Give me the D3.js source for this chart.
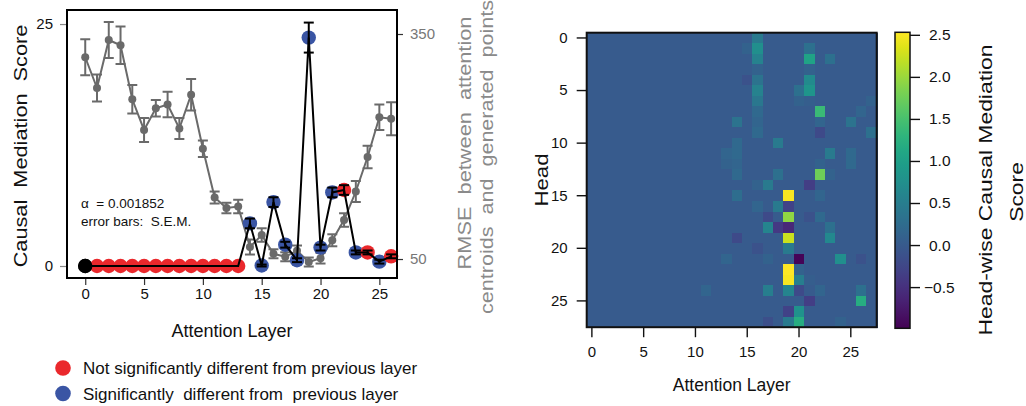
<!DOCTYPE html>
<html><head><meta charset="utf-8">
<script src="https://cdn.jsdelivr.net/npm/d3@7"></script>
<style>body{margin:0;background:#fff}svg{display:block;font-family:"Liberation Sans",Arial,sans-serif}</style>
</head><body><svg id="c" width="1026" height="406"></svg>
<script>
// ---------- data: left panel ----------
const layers = d3.range(0, 27);
const cmsValues = [0,0,0,0,0,0,0,0,0,0,0,0,0,0,4.4,0.05,6.6,2.2,0.6,23.6,1.9,7.6,7.85,1.4,1.4,0.45,1.0];
const cmsErrors = [0,0,0,0,0,0,0,0,0,0,0,0,0,0,0.5,0.1,0.5,0.3,0.2,1.55,0.3,0.5,0.5,0.2,0.2,0.2,0.2];
const significance = ["base","ns","ns","ns","ns","ns","ns","ns","ns","ns","ns","ns","ns","ns",
  "sig","sig","sig","sig","sig","sig","sig","sig","ns","sig","ns","sig","ns"];
const rmseValues = [319,278,342,335,263,222,251,256,224,269,197,132,118,120,66,82,57,53,61,46,51,75,102,140,186,239,237];
const rmseErrors = [24,18,24,25,19,16,11,17,14,21,11,8,7,9,10,9,6,6,7,6,7,8,9,14,15,17,22];
const leftTicks = [0, 25];
const rightTicks = [50, 350];
const layerTicks = [0,5,10,15,20,25];
const legendLabels = ["Not significantly different from previous layer","Significantly  different from  previous layer"];
// ---------- data: heatmap (sparse cells: [layer, head, value]; others ~0) ----------
const nLayers = 28, nHeads = 28;
const headCells = [
 [16,0,0.45],[16,1,0.75],[16,2,0.55],[16,3,0.1],[16,4,0.35],[16,5,0.55],[16,6,0.4],[16,7,0.2],[16,8,0.15],[16,9,0.2],
 [15,1,0.1],[15,4,-0.1],[14,8,0.35],[14,10,0.2],[14,11,0.2],[14,12,0.15],[14,13,0.2],[13,11,0.15],[13,12,0.1],
 [21,1,0.3],[21,2,1.05],[21,3,0.1],[21,4,0.7],[21,5,0.85],[21,6,0.05],[20,5,0.3],[20,6,0.1],
 [22,7,1.4],[22,8,0.15],[22,9,-0.2],[22,12,0.1],[22,13,1.75],[23,2,0.3],[23,11,0.45],[23,13,0.1],
 [18,10,0.45],[18,13,0.3],[25,8,0.35],[25,11,0.2],[25,12,0.2],[26,7,0.15],[27,9,0.3],[27,6,0.1],
 [17,14,0.45],[21,14,-0.35],[16,14,0.1],[19,15,2.5],[14,15,0.25],[22,15,0.15],
 [19,16,-0.3],[18,16,0.45],[16,16,0.15],[19,17,1.95],[17,17,-0.2],[21,17,-0.1],[22,17,0.2],
 [19,18,-0.6],[18,18,-0.4],[17,18,0.6],[23,18,0.3],[19,19,2.25],[23,19,0.65],[14,19,-0.2],
 [19,20,0.45],[16,20,-0.1],[20,21,-0.95],[24,21,0.75],[26,21,-0.1],[13,21,0.15],[17,21,0.1],
 [19,22,2.55],[20,22,0.1],[19,23,2.5],[20,23,0.5],[21,23,0.05],
 [17,24,0.5],[19,24,0.6],[20,24,-0.2],[26,24,0.3],[11,24,0.15],[22,24,0.15],
 [21,25,-0.35],[26,25,1.2],[19,26,-0.3],[20,26,0.8],[19,27,0.45],[20,27,1.2],[17,27,-0.15],[24,27,0.1]
];
const colorbarTicks = [-0.5,0.0,0.5,1.0,1.5,2.0,2.5];
const colorDomain = [-0.99, 2.53];

const svg = d3.select("#c");
const colors = {ns:"#ea282c", sig:"#3a55a4", base:"#000"};
const gray = "#6a6a6a";
const STRETCH = 1.27; // rotated labels are drawn elongated along their length

function vlabel(parent, x, y, txt, size, fill) {
  const t = parent.append("text").attr("transform",`translate(${x},${y}) rotate(-90)`)
    .attr("text-anchor","middle").attr("font-size",size).attr("fill",fill).text(txt);
  const len = t.node().getComputedTextLength();
  t.attr("textLength", len*STRETCH).attr("lengthAdjust","spacingAndGlyphs");
  return t;
}

// ---------- left panel ----------
const L = {x0:67, x1:397, y0:10, y1:278};
const x = d3.scaleLinear().domain([-1.55, 26.5]).range([L.x0, L.x1]);
const yL = d3.scaleLinear().domain([-1.24, 26.45]).range([L.y1, L.y0]);
const yR = d3.scaleLinear().domain([24.7, 382]).range([L.y1, L.y0]);

const gl = svg.append("g");
const ax = gl.append("g").attr("transform",`translate(0,${L.y1})`)
  .call(d3.axisBottom(x).tickValues(layerTicks).tickSize(7).tickPadding(3).tickFormat(d3.format("d")));
const ayl = gl.append("g").attr("transform",`translate(${L.x0},0)`)
  .call(d3.axisLeft(yL).tickValues(leftTicks).tickSize(7).tickPadding(7));
const ayr = gl.append("g").attr("transform",`translate(${L.x1},0)`)
  .call(d3.axisRight(yR).tickValues(rightTicks).tickSize(6).tickPadding(7));
[ax,ayl,ayr].forEach(a=>{a.select(".domain").remove();a.selectAll("text").attr("font-size",15).attr("fill","#111");a.selectAll("line").attr("stroke","#333").attr("stroke-width",1.2);});
ayr.selectAll("text").attr("fill","#777");
ayl.selectAll("line").attr("stroke","#888");

// gray RMSE series
const gg = gl.append("g");
gg.append("path").datum(layers).attr("fill","none").attr("stroke",gray).attr("stroke-width",2)
  .attr("d", d3.line().x(i=>x(i)).y(i=>yR(rmseValues[i])));
layers.forEach(i=>{
  const cx=x(i), t=yR(rmseValues[i]+rmseErrors[i]), b=yR(rmseValues[i]-rmseErrors[i]);
  gg.append("line").attr("x1",cx).attr("x2",cx).attr("y1",t).attr("y2",b).attr("stroke",gray).attr("stroke-width",2);
  [t,b].forEach(yy=>gg.append("line").attr("x1",cx-5).attr("x2",cx+5).attr("y1",yy).attr("y2",yy).attr("stroke",gray).attr("stroke-width",2));
});
gg.selectAll("circle").data(layers).join("circle").attr("cx",i=>x(i)).attr("cy",i=>yR(rmseValues[i])).attr("r",4).attr("fill",gray);

// colored dots
gl.append("g").selectAll("circle").data(layers).join("circle")
  .attr("cx",i=>x(i)).attr("cy",i=>yL(cmsValues[i])).attr("r",7.2)
  .attr("fill",i=>colors[significance[i]]);
// black line + error bars
const gb = gl.append("g");
gb.append("path").datum(layers).attr("fill","none").attr("stroke","#000").attr("stroke-width",2)
  .attr("d", d3.line().x(i=>x(i)).y(i=>yL(cmsValues[i])));
layers.filter(i=>cmsErrors[i]>0).forEach(i=>{
  const cx=x(i), t=yL(cmsValues[i]+cmsErrors[i]), b=yL(cmsValues[i]-cmsErrors[i]);
  gb.append("line").attr("x1",cx).attr("x2",cx).attr("y1",t).attr("y2",b).attr("stroke","#000").attr("stroke-width",2);
  [t,b].forEach(yy=>gb.append("line").attr("x1",cx-5).attr("x2",cx+5).attr("y1",yy).attr("y2",yy).attr("stroke","#000").attr("stroke-width",2));
});
gb.append("circle").attr("cx",x(0)).attr("cy",yL(cmsValues[0])).attr("r",7.2).attr("fill","#000");

// frame
gl.append("rect").attr("x",L.x0).attr("y",L.y0).attr("width",L.x1-L.x0).attr("height",L.y1-L.y0)
  .attr("fill","none").attr("stroke","#000").attr("stroke-width",2);

// annotations
gl.append("text").attr("x",81).attr("y",208).attr("font-size",13.5).attr("fill","#111").attr("xml:space","preserve").text("α  = 0.001852");
gl.append("text").attr("x",81).attr("y",226).attr("font-size",13.5).attr("fill","#111").attr("xml:space","preserve").text("error bars:  S.E.M.");

// labels
vlabel(gl, 27, 146, "Causal  Mediation  Score", 18, "#111").attr("xml:space","preserve");
gl.append("text").attr("x",(L.x0+L.x1)/2).attr("y",337).attr("text-anchor","middle")
  .attr("font-size",18).attr("fill","#111").text("Attention Layer");
vlabel(gl, 471, 143, "RMSE  between  attention", 18, "#8a8a8a").attr("xml:space","preserve");
vlabel(gl, 493, 157, "centroids  and  generated  points", 18, "#8a8a8a").attr("xml:space","preserve");

// legend
const lg = gl.append("g");
["ns","sig"].forEach((k,j)=>{
  lg.append("circle").attr("cx",63).attr("cy",368+j*25.5).attr("r",7.8).attr("fill",colors[k]);
  lg.append("text").attr("x",83).attr("y",374+j*25.5).attr("font-size",17).attr("fill","#111")
    .attr("xml:space","preserve").text(legendLabels[j]);
});

// ---------- heatmap ----------
const H = {x0:586.7, x1:876.7, y0:32.7, y1:327.2};
const hx = d3.scaleBand().domain(d3.range(nLayers)).range([H.x0,H.x1]).padding(0);
const hy = d3.scaleBand().domain(d3.range(nHeads)).range([H.y0,H.y1]).padding(0);
const color = d3.scaleSequential(d3.interpolateViridis).domain(colorDomain);
const grid = [];
const lookup = new Map(headCells.map(c=>[c[0]+","+c[1], c[2]]));
for (let h=0;h<nHeads;h++) for (let l=0;l<nLayers;l++) grid.push({l,h,v:lookup.get(l+","+h) ?? 0});
const gh = svg.append("g");
gh.append("g").attr("shape-rendering","crispEdges").selectAll("rect").data(grid).join("rect")
  .attr("x",d=>hx(d.l)).attr("y",d=>hy(d.h)).attr("width",hx.bandwidth()+1).attr("height",hy.bandwidth()+1)
  .attr("fill",d=>color(d.v));
gh.append("rect").attr("x",H.x0).attr("y",H.y0).attr("width",H.x1-H.x0).attr("height",H.y1-H.y0)
  .attr("fill","none").attr("stroke","#111").attr("stroke-width",2);
const hxa = gh.append("g").attr("transform",`translate(0,${H.y1})`)
  .call(d3.axisBottom(hx).tickValues(layerTicks).tickSize(10).tickPadding(9));
const hya = gh.append("g").attr("transform",`translate(${H.x0},0)`)
  .call(d3.axisLeft(hy).tickValues(layerTicks).tickSize(10).tickPadding(9));
[hxa,hya].forEach(a=>{a.select(".domain").remove();a.selectAll("text").attr("font-size",15).attr("fill","#111");a.selectAll("line").attr("stroke","#111").attr("stroke-width",1.4);});
gh.append("text").attr("x",(H.x0+H.x1)/2).attr("y",391).attr("text-anchor","middle").attr("font-size",17.5).attr("fill","#111").text("Attention Layer");
vlabel(gh, 548, 180, "Head", 17.5, "#111");

// colorbar
const CB = {x0:895, x1:910, y0:32.3, y1:328.3};
const cy = d3.scaleLinear().domain(colorDomain).range([CB.y1, CB.y0]);
const defs = svg.append("defs");
const grad = defs.append("linearGradient").attr("id","vir").attr("x1",0).attr("y1",1).attr("x2",0).attr("y2",0);
d3.range(0,1.001,0.05).forEach(t=>grad.append("stop").attr("offset",t).attr("stop-color",d3.interpolateViridis(t)));
svg.append("rect").attr("x",CB.x0).attr("y",CB.y0).attr("width",CB.x1-CB.x0).attr("height",CB.y1-CB.y0)
  .attr("fill","url(#vir)").attr("stroke","#111").attr("stroke-width",1.5);
const cba = svg.append("g").attr("transform",`translate(${CB.x1},0)`)
  .call(d3.axisRight(cy).tickValues(colorbarTicks).tickSize(10).tickPadding(9).tickFormat(d=>d3.format(".1f")(d).replace("-","−")));
cba.select(".domain").remove();
cba.selectAll("text").attr("font-size",15.5).attr("fill","#111");
cba.selectAll("text").filter(d=>d<0).attr("dx",-5);
cba.selectAll("line").attr("stroke","#111").attr("stroke-width",1.4);
vlabel(svg, 992, 190, "Head-wise Causal Mediation", 18, "#111");
vlabel(svg, 1023, 192, "Score", 18, "#111");
</script></body></html>
